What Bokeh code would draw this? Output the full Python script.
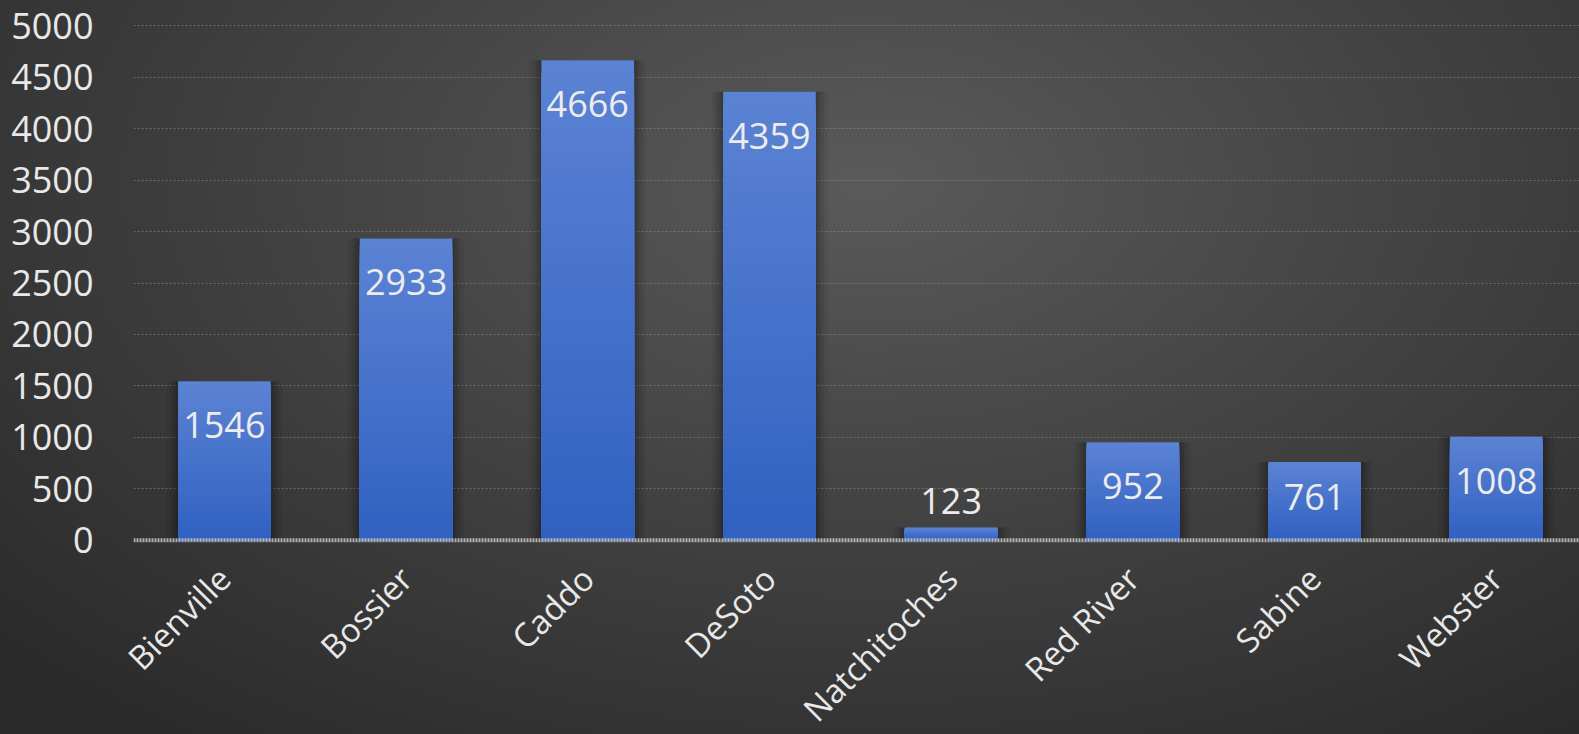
import math
from bokeh.plotting import figure
from bokeh.models import Range1d, FixedTicker, ColumnDataSource, Span
from bokeh.core.properties import value
from bokeh.embed import file_html
from bokeh.resources import INLINE

# ---- data ----
counties = ["Bienville", "Bossier", "Caddo", "DeSoto", "Natchitoches", "Red River", "Sabine", "Webster"]
counts = [1546, 2933, 4666, 4359, 123, 952, 761, 1008]
y_ticks = [0, 500, 1000, 1500, 2000, 2500, 3000, 3500, 4000, 4500, 5000]

# ---- styles ----
label_offsets = [44, 44, 44, 44, -27, 44, 35, 44]
FONT = "Open Sans"
TOP_RGB = (92, 131, 212)
BOT_RGB = (48, 97, 193)
N_SEG = 40

xs = list(range(len(counties)))

p = figure(frame_width=1446, frame_height=535, output_backend="svg", toolbar_location=None,
           x_range=Range1d(-0.5, -0.5 + 1446 / 181.7), y_range=Range1d(-100, 5100),
           min_border_left=133, min_border_right=0, min_border_top=15, min_border_bottom=184)
p.background_fill_color = None
p.border_fill_color = None
p.outline_line_color = None

# grid
p.xgrid.grid_line_color = None
p.ygrid.ticker = FixedTicker(ticks=y_ticks[1:])
p.ygrid.grid_line_color = "#9a9a9a"
p.ygrid.grid_line_alpha = 0.5
p.ygrid.grid_line_dash = "2 2"
p.ygrid.grid_line_width = 1

# soft shadows
for w, a in [(0.64, 0.05), (0.60, 0.07), (0.565, 0.09), (0.535, 0.10)]:
    p.vbar(x=xs, top=counts, bottom=0, width=w, fill_color="black", fill_alpha=a, line_color=None)

# gradient bars: nested bars from 0, tallest (lightest) drawn first
seg_x, seg_t, seg_c = [], [], []
for k in range(N_SEG - 1, -1, -1):
    f = (k + 0.5) / N_SEG
    r = round(BOT_RGB[0] + (TOP_RGB[0] - BOT_RGB[0]) * f)
    g = round(BOT_RGB[1] + (TOP_RGB[1] - BOT_RGB[1]) * f)
    b = round(BOT_RGB[2] + (TOP_RGB[2] - BOT_RGB[2]) * f)
    for x, v in zip(xs, counts):
        seg_x.append(x)
        seg_t.append(v * (k + 1) / N_SEG)
        seg_c.append("#%02x%02x%02x" % (r, g, b))
p.vbar(x=seg_x, top=seg_t, bottom=0, width=0.51, fill_color=seg_c, line_color=None)

# zero line
p.add_layout(Span(location=0, dimension="width", line_color="#c4c4c4", line_width=4,
                  line_dash="2 1", line_alpha=0.85))

# data labels
src = ColumnDataSource(dict(x=xs, y=counts, t=[str(c) for c in counts], off=label_offsets))
p.text(x="x", y="y", text="t", y_offset="off", source=src, text_align="center",
       text_baseline="middle", text_color="#ececec", text_font=value(FONT),
       text_font_size="36px")

# axes
p.yaxis.ticker = FixedTicker(ticks=y_ticks)
p.yaxis.axis_line_color = None
p.yaxis.major_tick_line_color = None
p.yaxis.minor_tick_line_color = None
p.yaxis.major_label_standoff = 34
p.yaxis.major_label_text_font = FONT
p.yaxis.major_label_text_font_size = "36px"
p.yaxis.major_label_text_color = "#e8e8e8"

p.xaxis.ticker = FixedTicker(ticks=xs)
p.xaxis.major_label_overrides = {i: c for i, c in enumerate(counties)}
p.xaxis.major_label_orientation = math.pi / 4
p.xaxis.axis_line_color = None
p.xaxis.major_tick_line_color = None
p.xaxis.minor_tick_line_color = None
p.xaxis.major_label_standoff = 16
p.xaxis.major_label_text_font = FONT
p.xaxis.major_label_text_font_size = "33px"
p.xaxis.major_label_text_color = "#e8e8e8"

html = file_html(p, INLINE)
style = ("<style>html,body{margin:0;padding:0;height:100%;overflow:hidden;}"
         "body{background:radial-gradient(ellipse 75% 95% at 55% 25%, #5a5a5a 0%, #414141 50%, #2a2a2a 100%);}"
         "</style>")
html = html.replace("</head>", style + "</head>", 1)
open("out.html", "w").write(html)
